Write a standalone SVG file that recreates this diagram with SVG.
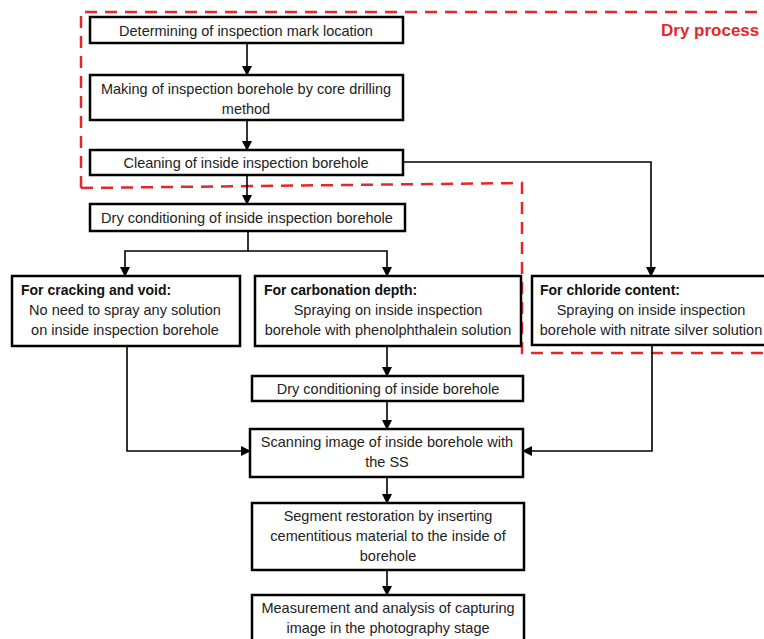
<svg xmlns="http://www.w3.org/2000/svg" width="764" height="639" viewBox="0 0 764 639">
<defs>
<style>
.box{fill:#fff;stroke:#000;stroke-width:2.5}
.t{font-family:"Liberation Sans",Arial,sans-serif;font-size:14.5px;fill:#222;text-anchor:middle}
.h{font-family:"Liberation Sans",Arial,sans-serif;font-size:14px;font-weight:bold;fill:#111}
.c{fill:none;stroke:#000;stroke-width:1.6}
.r{fill:none;stroke:#e8262a;stroke-width:2.5;stroke-dasharray:12 8}
</style>
<marker id="a" markerWidth="10" markerHeight="10" refX="9" refY="5" orient="auto" markerUnits="userSpaceOnUse">
<path d="M0,0 L10,5 L0,10 Z" fill="#000"/>
</marker>
</defs>
<rect width="764" height="639" fill="#fff"/>
<g id="region">
<path class="r" d="M81,188 V12 H764"/>
<path class="r" d="M81,188 L522,183 V353 H764"/>
<text x="661" y="36" font-family="Liberation Sans,Arial,sans-serif" font-size="17" font-weight="bold" fill="#e8262a">Dry process</text>
</g>
<g id="connectors">
<path class="c" d="M247,43 V75" marker-end="url(#a)"/>
<path class="c" d="M247,120 V150" marker-end="url(#a)"/>
<path class="c" d="M247,175 V204" marker-end="url(#a)"/>
<path class="c" d="M403,162 H651 V276" marker-end="url(#a)"/>
<path class="c" d="M248,231 V251 H125 V276" marker-end="url(#a)"/>
<path class="c" d="M248,251 H387 V276" marker-end="url(#a)"/>
<path class="c" d="M387,346 V376" marker-end="url(#a)"/>
<path class="c" d="M387,401 V429" marker-end="url(#a)"/>
<path class="c" d="M387,477 V503" marker-end="url(#a)"/>
<path class="c" d="M387,570 V595" marker-end="url(#a)"/>
<path class="c" d="M127,346 V451 H250" marker-end="url(#a)"/>
<path class="c" d="M652,346 V451 H523" marker-end="url(#a)"/>
</g>
<g id="n1"><rect class="box" x="90" y="17" width="313" height="26"/><text class="t" x="246" y="36">Determining of inspection mark location</text></g>
<g id="n2"><rect class="box" x="90" y="75" width="313" height="45"/><text class="t" x="246" y="94">Making of inspection borehole by core drilling</text><text class="t" x="246" y="114">method</text></g>
<g id="n3"><rect class="box" x="90" y="150" width="313" height="25"/><text class="t" x="246" y="168">Cleaning of inside inspection borehole</text></g>
<g id="n4"><rect class="box" x="90" y="204" width="315" height="27"/><text class="t" x="247" y="223">Dry conditioning of inside inspection borehole</text></g>
<g id="n5"><rect class="box" x="12" y="276" width="228" height="70"/><text class="h" x="21" y="295">For cracking and void:</text><text class="t" x="125" y="315">No need to spray any solution</text><text class="t" x="125" y="335">on inside inspection borehole</text></g>
<g id="n6"><rect class="box" x="255" y="276" width="266" height="70"/><text class="h" x="264" y="295">For carbonation depth:</text><text class="t" x="388" y="315">Spraying on inside inspection</text><text class="t" x="388" y="335">borehole with phenolphthalein solution</text></g>
<g id="n7"><rect class="box" x="532" y="276" width="240" height="69"/><text class="h" x="540" y="295">For chloride content:</text><text class="t" x="651" y="315">Spraying on inside inspection</text><text class="t" x="651" y="335">borehole with nitrate silver solution</text></g>
<g id="n8"><rect class="box" x="252" y="376" width="271" height="25"/><text class="t" x="388" y="394">Dry conditioning of inside borehole</text></g>
<g id="n9"><rect class="box" x="250" y="429" width="273" height="48"/><text class="t" x="387" y="447">Scanning image of inside borehole with</text><text class="t" x="387" y="467">the SS</text></g>
<g id="n10"><rect class="box" x="252" y="503" width="272" height="67"/><text class="t" x="388" y="521">Segment restoration by inserting</text><text class="t" x="388" y="541">cementitious material to the inside of</text><text class="t" x="388" y="561">borehole</text></g>
<g id="n11"><rect class="box" x="252" y="595" width="272" height="60"/><text class="t" x="388" y="613">Measurement and analysis of capturing</text><text class="t" x="388" y="633">image in the photography stage</text></g>
</svg>
